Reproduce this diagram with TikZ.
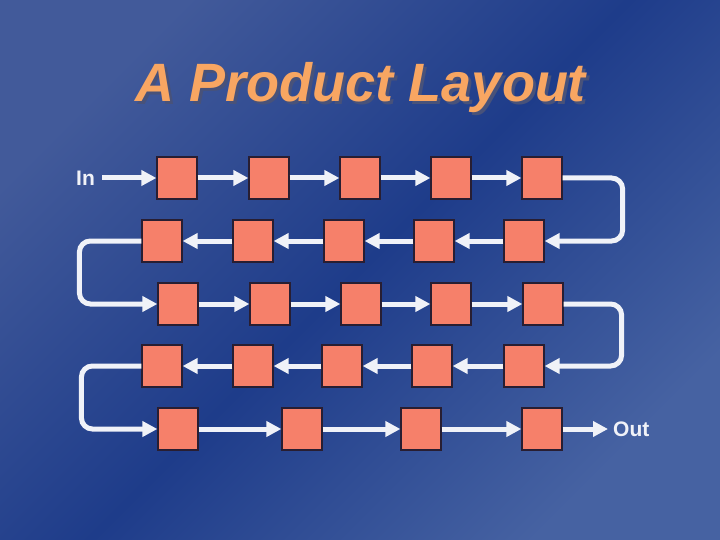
\documentclass[tikz,border=0pt]{standalone}
\usepackage{fontspec}
\setmainfont{Liberation Sans}
\usetikzlibrary{arrows.meta}
\definecolor{bgA}{RGB}{66,90,154}
\definecolor{bgM}{RGB}{30,60,138}
\definecolor{bgB}{RGB}{70,98,162}
\definecolor{boxfill}{RGB}{246,128,106}
\definecolor{boxline}{RGB}{40,30,50}
\definecolor{titleor}{RGB}{248,166,98}
\definecolor{titlesh}{RGB}{72,82,122}
\definecolor{flow}{RGB}{240,242,248}
\tikzset{
  unit/.style={draw=boxline, line width=1.2pt, fill=boxfill, minimum width=40pt, minimum height=42pt, inner sep=0pt},
  arr/.style={draw=flow, line width=5pt, -{Triangle[length=15pt,width=15pt]}},
  loop/.style={arr, rounded corners=11pt},
  lbl/.style={text=flow, font=\bfseries\fontsize{21}{24}\selectfont, inner sep=0pt},
  ttl/.style={font=\bfseries\itshape\fontsize{54}{60}\selectfont, inner sep=0pt},
}
\begin{document}
\begin{tikzpicture}[x=1pt,y=-1pt]
\useasboundingbox (0,0) rectangle (720,540);
\begin{scope}
\clip (0,0) rectangle (720,540);
\shade[top color=bgA, bottom color=bgB, middle color=bgM, shading angle=45] (0,0) rectangle (720,540);
\end{scope}
% title
\node[ttl, text=titlesh] (titlesh) at (364,91) {A Product Layout};
\node[ttl, text=titleor] (title) at (361,88) {A Product Layout};
% rows of units
\foreach \x [count=\i] in {177,269,360,451,542} \node[unit] (r1c\i) at (\x,178) {};
\foreach \x [count=\i] in {162,253,344,434,524} \node[unit] (r2c\i) at (\x,241) {};
\foreach \x [count=\i] in {178,270,361,451,543} \node[unit] (r3c\i) at (\x,304) {};
\foreach \x [count=\i] in {162,253,342,432,524} \node[unit] (r4c\i) at (\x,366) {};
\foreach \x [count=\i] in {178,302,421,542} \node[unit] (r5c\i) at (\x,429) {};
\node[lbl, anchor=west] (in) at (76,178) {In};
\node[lbl, anchor=west] (out) at (613,429) {Out};
% connectors
\draw[arr] (in.east) ++(7,0) coordinate (ins) (ins) -- (r1c1.west);
\foreach \i [evaluate=\i as \j using int(\i+1)] in {1,2,3,4} {
  \draw[arr] (r1c\i.east) -- (r1c\j.west);
  \draw[arr] (r2c\j.west) -- (r2c\i.east);
  \draw[arr] (r3c\i.east) -- (r3c\j.west);
  \draw[arr] (r4c\j.west) -- (r4c\i.east);
}
\foreach \i [evaluate=\i as \j using int(\i+1)] in {1,2,3} \draw[arr] (r5c\i.east) -- (r5c\j.west);
\draw[arr, shorten >=5pt] (r5c4.east) -- (r5c4.east -| out.west);
\draw[loop] (r1c5.east) -- ++(60,0) |- (r2c5.east);
\draw[loop] (r2c1.west) -- ++(-62,0) |- (r3c1.west);
\draw[loop] (r3c5.east) -- ++(58,0) |- (r4c5.east);
\draw[loop] (r4c1.west) -- ++(-60,0) |- (r5c1.west);
\end{tikzpicture}
\end{document}
